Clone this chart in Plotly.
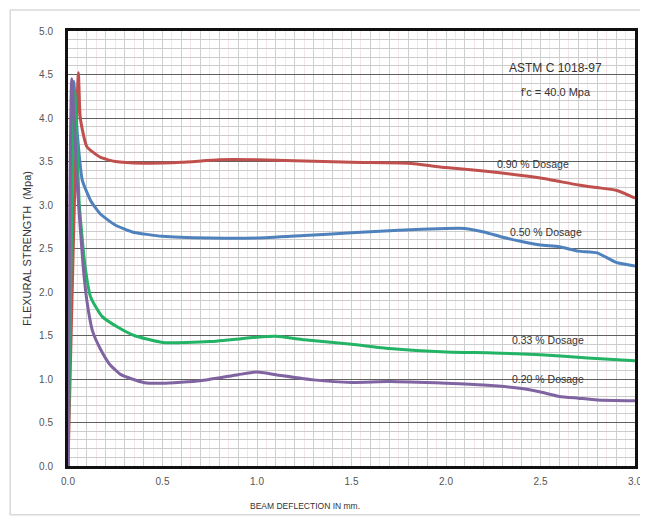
import plotly.graph_objects as go

# ---- data ----
red_x = [0, 0.055, 0.065, 0.1, 0.17, 0.25, 0.4, 0.6, 0.8, 1.0, 1.2, 1.5, 1.8, 2.0, 2.2, 2.5, 2.7, 2.8, 2.9, 3.0]
red_y = [0, 4.52, 4.0, 3.67, 3.55, 3.5, 3.48, 3.49, 3.52, 3.52, 3.51, 3.49, 3.48, 3.43, 3.39, 3.31, 3.23, 3.2, 3.17, 3.08]

blue_x = [0, 0.03, 0.05, 0.075, 0.12, 0.17, 0.25, 0.34, 0.5, 0.75, 1.0, 1.25, 1.5, 1.75, 2.0, 2.1, 2.2, 2.3, 2.4, 2.5, 2.6, 2.7, 2.8, 2.9, 3.0]
blue_y = [0, 4.42, 3.8, 3.29, 3.05, 2.9, 2.77, 2.69, 2.64, 2.62, 2.62, 2.65, 2.68, 2.71, 2.73, 2.73, 2.69, 2.63, 2.58, 2.54, 2.52, 2.47, 2.45, 2.34, 2.3]

green_x = [0, 0.035, 0.06, 0.09, 0.12, 0.18, 0.26, 0.35, 0.5, 0.75, 1.0, 1.1, 1.25, 1.5, 1.7, 2.0, 2.25, 2.5, 2.75, 3.0]
green_y = [0, 4.3, 3.0, 2.3, 1.94, 1.72, 1.6, 1.5, 1.42, 1.43, 1.48, 1.49, 1.45, 1.4, 1.35, 1.31, 1.3, 1.28, 1.24, 1.21]

purple_x = [0, 0.02, 0.05, 0.08, 0.1, 0.13, 0.17, 0.22, 0.28, 0.4, 0.5, 0.7, 0.9, 1.0, 1.1, 1.3, 1.5, 1.7, 2.0, 2.2, 2.4, 2.5, 2.6, 2.7, 2.8, 3.0]
purple_y = [0, 4.45, 3.2, 2.3, 1.9, 1.55, 1.35, 1.17, 1.05, 0.96, 0.95, 0.98, 1.05, 1.08, 1.05, 0.99, 0.96, 0.97, 0.95, 0.93, 0.89, 0.85, 0.8, 0.78, 0.76, 0.75]

series_names = ["0.90 % Dosage", "0.50 % Dosage", "0.33 % Dosage", "0.20 % Dosage"]
label_x = [2.46, 2.53, 2.54, 2.54]
label_y = [3.47, 2.69, 1.45, 1.0]

x_tickvals = [round(i * 0.1, 1) for i in range(31)]
x_ticktext = [f"{v:.1f}" if abs(v * 2 - round(v * 2)) < 1e-9 else "" for v in x_tickvals]

FONT = "Liberation Sans Narrow, Arial Narrow, Liberation Sans, sans-serif"

fig = go.Figure()
colors = ["#c0504d", "#4f81bd", "#22b365", "#8064a2"]
for xs, ys, c, n in zip([red_x, blue_x, green_x, purple_x], [red_y, blue_y, green_y, purple_y], colors, series_names):
    fig.add_trace(go.Scatter(x=xs, y=ys, mode="lines", name=n,
                             line=dict(color=c, width=3, shape="spline", smoothing=0.5),
                             showlegend=False))

for n, lx, ly in zip(series_names, label_x, label_y):
    fig.add_annotation(x=lx, y=ly, text=n, showarrow=False, xanchor="center", yanchor="middle",
                       font=dict(family=FONT, size=10.5, color="#333333"))

fig.add_annotation(x=2.58, y=4.57, text="ASTM C 1018-97", showarrow=False,
                   font=dict(family=FONT, size=12, color="#333333"))
fig.add_annotation(x=2.58, y=4.3, text="f'c = 40.0 Mpa", showarrow=False,
                   font=dict(family=FONT, size=11, color="#333333"))

# x axis title (placed left of centre as in the source)
fig.add_annotation(xref="paper", yref="paper", x=0.418, y=-0.092, text="BEAM DEFLECTION IN mm.",
                   showarrow=False, xanchor="center", yanchor="middle",
                   font=dict(family=FONT, size=8.5, color="#333333"))

# outer frame
fig.add_shape(type="rect", xref="paper", yref="paper", x0=-0.102, x1=1.018, y0=-0.112, y1=1.048,
              line=dict(color="#d9d9d9", width=1.5), layer="below")

fig.update_layout(
    width=640, height=511,
    margin=dict(l=60, r=13, t=23, b=53, autoexpand=False),
    paper_bgcolor="white", plot_bgcolor="white",
    font=dict(family=FONT, color="#555555"),
    xaxis=dict(range=[0, 3.0], tickvals=x_tickvals, ticktext=x_ticktext,
               showgrid=True, gridcolor="#cfcfcf", gridwidth=1,
               minor=dict(dtick=0.05, showgrid=True, gridcolor="#f6e6ec", gridwidth=1),
               showline=True, linecolor="#111111", linewidth=3, mirror=True,
               ticks="", ticklabelstandoff=4, automargin=False,
               tickfont=dict(size=10, color="#555555", family=FONT),
               zeroline=False),
    yaxis=dict(range=[0, 5.0], dtick=0.5, tickformat=".1f",
               showgrid=True, gridcolor="#606060", gridwidth=1,
               minor=dict(dtick=0.1, showgrid=True, gridcolor="#cccccc", gridwidth=1),
               showline=True, linecolor="#111111", linewidth=3, mirror=True,
               ticks="", ticklabelstandoff=10, automargin=False,
               tickfont=dict(size=10, color="#555555", family=FONT),
               title=dict(text="FLEXURAL STRENGTH  (Mpa)", font=dict(size=11, color="#333333", family=FONT), standoff=6),
               zeroline=False),
)

fig.write_html("out.html")
